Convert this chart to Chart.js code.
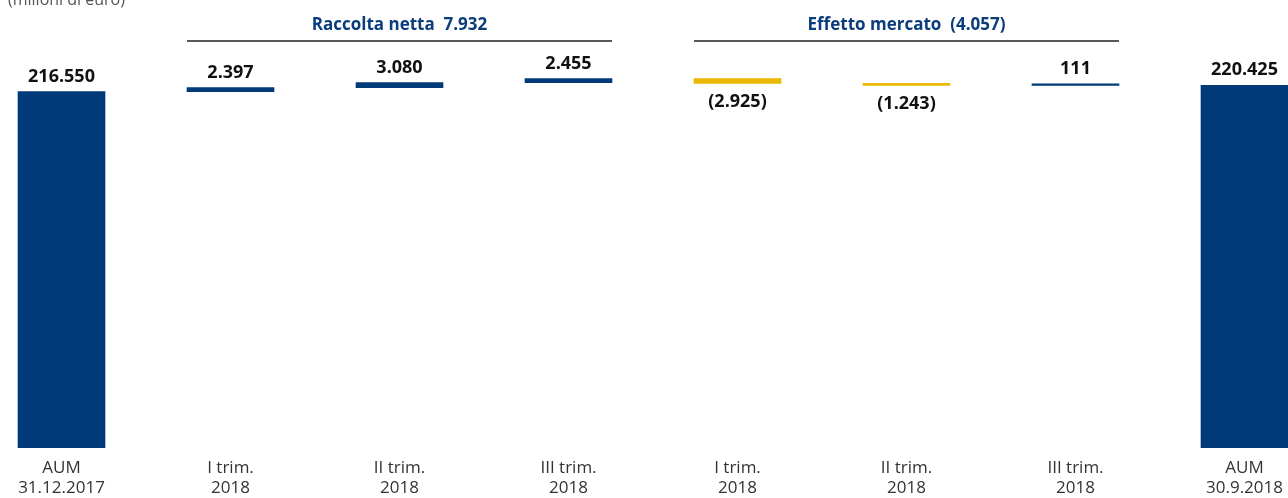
<!DOCTYPE html>
<html>
<head>
<meta charset="utf-8">
<script src="https://cdn.jsdelivr.net/npm/chart.js@4.4.1/dist/chart.umd.min.js"></script>
<style>
  html, body { margin: 0; padding: 0; background: #ffffff; overflow: hidden; }
  #wrap { position: absolute; left: -23px; top: 0; width: 1352px; height: 498px; }
</style>
</head>
<body>
<div id="wrap"><canvas id="c" width="1352" height="498"></canvas></div>
<script>
// ---- data ----
const categories = [
  ['AUM', '31.12.2017'],
  ['I trim.', '2018'],
  ['II trim.', '2018'],
  ['III trim.', '2018'],
  ['I trim.', '2018'],
  ['II trim.', '2018'],
  ['III trim.', '2018'],
  ['AUM', '30.9.2018']
];
const startValue = 216550;
const deltas = [2397, 3080, 2455, -2925, -1243, 111];
const endValue = 220425;
const valueLabels = ['216.550', '2.397', '3.080', '2.455', '(2.925)', '(1.243)', '111', '220.425'];
const groupTitles = ['Raccolta netta  7.932', 'Effetto mercato  (4.057)'];
const groupRanges = [[1, 3], [4, 6]];
const unitNote = '(milioni di euro)';

// ---- build floating bars ----
const BLUE = '#003a78';
const YELLOW = '#e8b900';
const floating = [[0, startValue]];
const colors = [BLUE];
let run = startValue;
deltas.forEach(d => {
  floating.push([run, run + d]);
  colors.push(d >= 0 ? BLUE : YELLOW);
  run += d;
});
floating.push([0, endValue]);
colors.push(BLUE);

const FONT = "'Open Sans', 'Noto Sans', sans-serif";

const overlay = {
  id: 'overlay',
  afterDatasetsDraw(chart) {
    const ctx = chart.ctx;
    const meta = chart.getDatasetMeta(0);
    ctx.save();
    // value labels
    ctx.font = 'bold 18px ' + FONT;
    ctx.fillStyle = '#111111';
    ctx.textAlign = 'center';
    meta.data.forEach((el, i) => {
      const top = Math.min(el.y, el.base);
      const bottom = Math.max(el.y, el.base);
      const neg = i > 0 && i <= deltas.length && deltas[i - 1] < 0;
      if (neg) {
        ctx.textBaseline = 'top';
        ctx.fillText(valueLabels[i], el.x, bottom + 9);
      } else {
        ctx.textBaseline = 'alphabetic';
        ctx.fillText(valueLabels[i], el.x, top - 10);
      }
    });
    // group headers
    groupRanges.forEach((r, g) => {
      const a = meta.data[r[0]], b = meta.data[r[1]];
      const x1 = a.x - a.width / 2, x2 = b.x + b.width / 2;
      ctx.strokeStyle = '#222222';
      ctx.lineWidth = 1.5;
      ctx.beginPath();
      ctx.moveTo(x1, 41);
      ctx.lineTo(x2, 41);
      ctx.stroke();
      ctx.font = 'bold 17px ' + FONT;
      ctx.fillStyle = '#0b3d7c';
      ctx.textBaseline = 'alphabetic';
      ctx.textAlign = 'center';
      ctx.fillText(groupTitles[g], (x1 + x2) / 2, 30);
    });
    // unit note
    ctx.font = '16px ' + FONT;
    ctx.fillStyle = '#555555';
    ctx.textAlign = 'left';
    ctx.textBaseline = 'alphabetic';
    ctx.fillText(unitNote, 31, 5);
    ctx.restore();
  }
};

new Chart(document.getElementById('c'), {
  type: 'bar',
  data: {
    labels: categories,
    datasets: [{
      data: floating,
      backgroundColor: colors,
      borderWidth: 0,
      barThickness: 87,
      minBarLength: 1.5,
      borderSkipped: false
    }]
  },
  options: {
    responsive: false,
    animation: false,
    layout: { padding: { top: 30, bottom: 0, left: 0, right: 0 } },
    plugins: { legend: { display: false }, tooltip: { enabled: false } },
    scales: {
      x: {
        grid: { display: false },
        border: { display: false },
        ticks: {
          color: '#333333',
          font: { family: FONT, size: 17, lineHeight: 1.18 },
          maxRotation: 0,
          autoSkip: false,
          padding: 2
        },
        afterFit(scale) { scale.height = 50; }
      },
      y: { display: false, min: 0, max: 254000 }
    }
  },
  plugins: [overlay]
});
</script>
</body>
</html>
